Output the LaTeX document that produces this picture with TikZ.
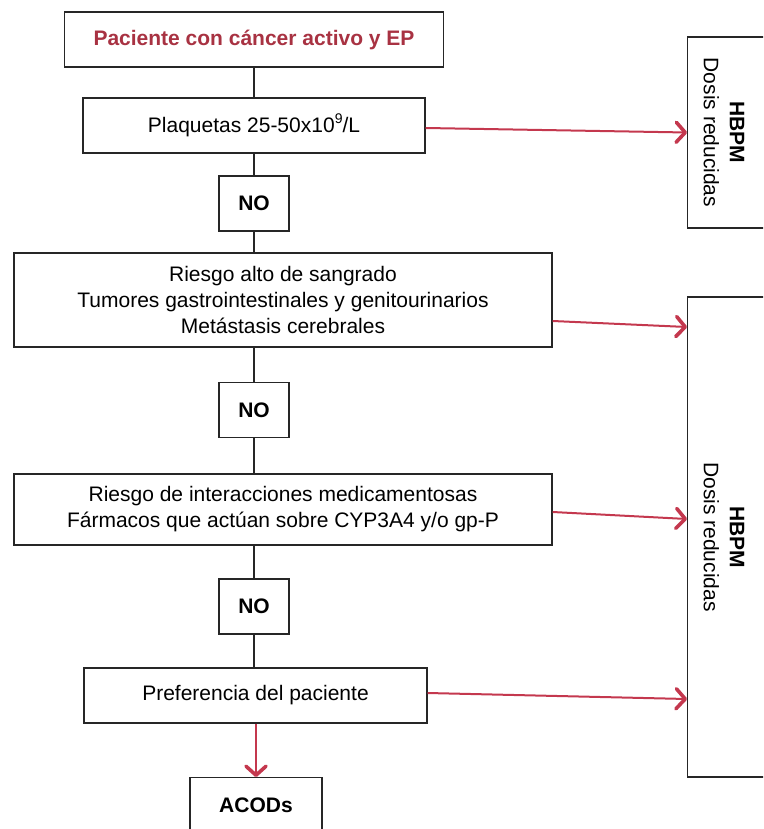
\documentclass[tikz,border=0pt]{standalone}
\usepackage{fontspec}
\setmainfont{Liberation Sans}
\usetikzlibrary{arrows.meta,calc}
\definecolor{titlered}{RGB}{168,50,66}
\definecolor{arrowred}{RGB}{196,56,78}
\newcommand{\supnine}{\raisebox{0.42em}{\fontsize{14}{14}\selectfont 9}}
\begin{document}
\begin{tikzpicture}[x=1pt,y=-1pt,
  every node/.style={font=\fontsize{21}{26}\selectfont, inner sep=0pt},
  box/.style={draw=black!85, line width=1.4pt, align=center},
  nobox/.style={box, minimum width=70pt, minimum height=55pt, font=\fontsize{21}{26}\selectfont\bfseries},
  link/.style={draw=black!85, line width=1.4pt},
  redarrow/.style={draw=arrowred, line width=2pt,
    -{Straight Barb[length=9pt,width=20pt,line width=3.6pt,round]}}]
\useasboundingbox (0,0) rectangle (763,829);
\clip (0,0) rectangle (763,829);

% main column
\node[box, minimum width=379pt, minimum height=55pt,
      font=\fontsize{21}{26}\selectfont\bfseries, text=titlered]
  (start) at (254,39.5) {Paciente con cáncer activo y EP};
\node[box, minimum width=342pt, minimum height=55pt]
  (plaq) at (254,125.5) {Plaquetas 25-50x10\supnine/L};
\node[nobox] (no1) at (254,203.5) {NO};
\node[box, minimum width=538pt, minimum height=94pt]
  (riesgo) at (283,300) {Riesgo alto de sangrado\\Tumores gastrointestinales y genitourinarios\\Metástasis cerebrales};
\node[nobox] (no2) at (254,410) {NO};
\node[box, minimum width=538pt, minimum height=71pt]
  (inter) at (283,509.5) {Riesgo de interacciones medicamentosas\\Fármacos que actúan sobre CYP3A4 y/o gp-P};
\node[nobox] (no3) at (254,606.5) {NO};
\node[box, minimum width=343pt, minimum height=55pt]
  (pref) at (255.5,695.5) {Preferencia del paciente};
\node[box, minimum width=132pt, minimum height=70pt, anchor=north,
      font=\fontsize{21}{26}\selectfont\bfseries, text depth=16pt]
  (acod) at (256,777) {ACODs};

% outcome boxes on the right
\node[box, minimum width=150pt, minimum height=191pt, anchor=west]
  (hbpm1) at (687,132.5) {};
\node[rotate=-90, align=center] (hbpm1t) at (724,132.5)
  {\textbf{HBPM}\\Dosis reducidas};
\node[box, minimum width=150pt, minimum height=480pt, anchor=west]
  (hbpm2) at (687,537) {};
\node[rotate=-90, align=center] (hbpm2t) at (724,537)
  {\textbf{HBPM}\\Dosis reducidas};

% vertical links
\draw[link] (start.south) -- (plaq.north);
\draw[link] (plaq.south) -- (no1.north);
\draw[link] (no1.south) -- (no1.south |- riesgo.north);
\draw[link] (no2.north |- riesgo.south) -- (no2.north);
\draw[link] (no2.south) -- (no2.south |- inter.north);
\draw[link] (no3.north |- inter.south) -- (no3.north);
\draw[link] (no3.south) -- (no3.south |- pref.north);
\draw[redarrow] (pref.south -| acod.north) -- (acod.north);

% arrows to the outcome boxes
\draw[redarrow] ($(plaq.east)+(0,2.5)$) -- (hbpm1.west);
\draw[redarrow] ($(riesgo.east)+(0,21)$) -- ($(hbpm2.west |- riesgo.east)+(0,27)$);
\draw[redarrow] ($(inter.east)+(0,2.5)$) -- ($(hbpm2.west |- inter.east)+(0,9.5)$);
\draw[redarrow] ($(pref.east)+(0,-2.5)$) -- ($(hbpm2.west |- pref.east)+(0,3.5)$);
\end{tikzpicture}
\end{document}
